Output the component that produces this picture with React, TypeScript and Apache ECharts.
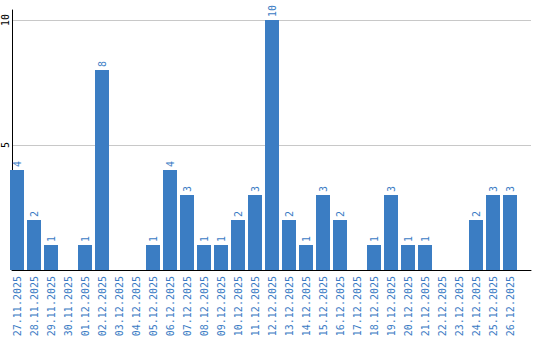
import React, { useEffect, useRef } from "react";
import * as echarts from "echarts";

const categories = [
  "27.11.2025", "28.11.2025", "29.11.2025", "30.11.2025", "01.12.2025",
  "02.12.2025", "03.12.2025", "04.12.2025", "05.12.2025", "06.12.2025",
  "07.12.2025", "08.12.2025", "09.12.2025", "10.12.2025", "11.12.2025",
  "12.12.2025", "13.12.2025", "14.12.2025", "15.12.2025", "16.12.2025",
  "17.12.2025", "18.12.2025", "19.12.2025", "20.12.2025", "21.12.2025",
  "22.12.2025", "23.12.2025", "24.12.2025", "25.12.2025", "26.12.2025",
];
const values = [4, 2, 1, 0, 1, 8, 0, 0, 1, 4, 3, 1, 1, 2, 3, 10, 2, 1, 3, 2, 0, 1, 3, 1, 1, 0, 0, 2, 3, 3];
const yMin = 0;
const yMax = 10.4;
const yInterval = 5;

const BLUE = "#3b7dc3";
const TEXT_BLUE = "#3a7bc4";
const MONO = "DejaVu Sans Mono";

export default function App() {
  const ref = useRef<HTMLDivElement>(null);
  useEffect(() => {
    document.body.style.margin = "0";
    if (!ref.current) return;
    const chart = echarts.init(ref.current, null, { renderer: "svg" });
    chart.setOption({
      animation: false,
      backgroundColor: "#ffffff",
      grid: [
        { left: 10, right: 9, top: 10, bottom: 70 },
        { left: 8.5, width: 510, top: 10, bottom: 70 },
      ],
      xAxis: [
        {
          gridIndex: 0,
          type: "value",
          min: 0,
          max: 1,
          axisLine: { show: true, lineStyle: { color: "#000", width: 1 } },
          axisTick: { show: false },
          axisLabel: { show: false },
          splitLine: { show: false },
        },
        {
          gridIndex: 1,
          type: "category",
          data: categories,
          axisLine: { show: false },
          axisTick: { show: false },
          axisLabel: {
            interval: 0,
            rotate: 90,
            color: TEXT_BLUE,
            fontFamily: MONO,
            fontSize: 10,
            margin: 6,
          },
        },
      ],
      yAxis: [
        {
          gridIndex: 0,
          type: "value",
          min: yMin,
          max: yMax,
          interval: yInterval,
          axisLine: { show: true, lineStyle: { color: "#000", width: 1 } },
          axisTick: { show: false },
          axisLabel: {
            rotate: 90,
            color: "#000",
            fontFamily: MONO,
            fontSize: 10,
            margin: 2,
            showMaxLabel: false,
            showMinLabel: false,
          },
          splitLine: {
            show: true,
            showMaxLine: false,
            lineStyle: { color: "#c8c8c8", width: 1 },
          },
        },
        {
          gridIndex: 1,
          type: "value",
          min: yMin,
          max: yMax,
          show: false,
        },
      ],
      series: [
        {
          type: "bar",
          xAxisIndex: 1,
          yAxisIndex: 1,
          data: values,
          barWidth: 14,
          itemStyle: { color: BLUE },
          label: {
            show: true,
            position: "top",
            distance: 3,
            rotate: 90,
            align: "left",
            verticalAlign: "middle",
            color: TEXT_BLUE,
            fontFamily: MONO,
            fontSize: 10,
            formatter: (p: any) => (p.value ? String(p.value) : ""),
          },
        },
      ],
    });
    return () => chart.dispose();
  }, []);
  return <div ref={ref} style={{ width: 540, height: 340 }} />;
}
